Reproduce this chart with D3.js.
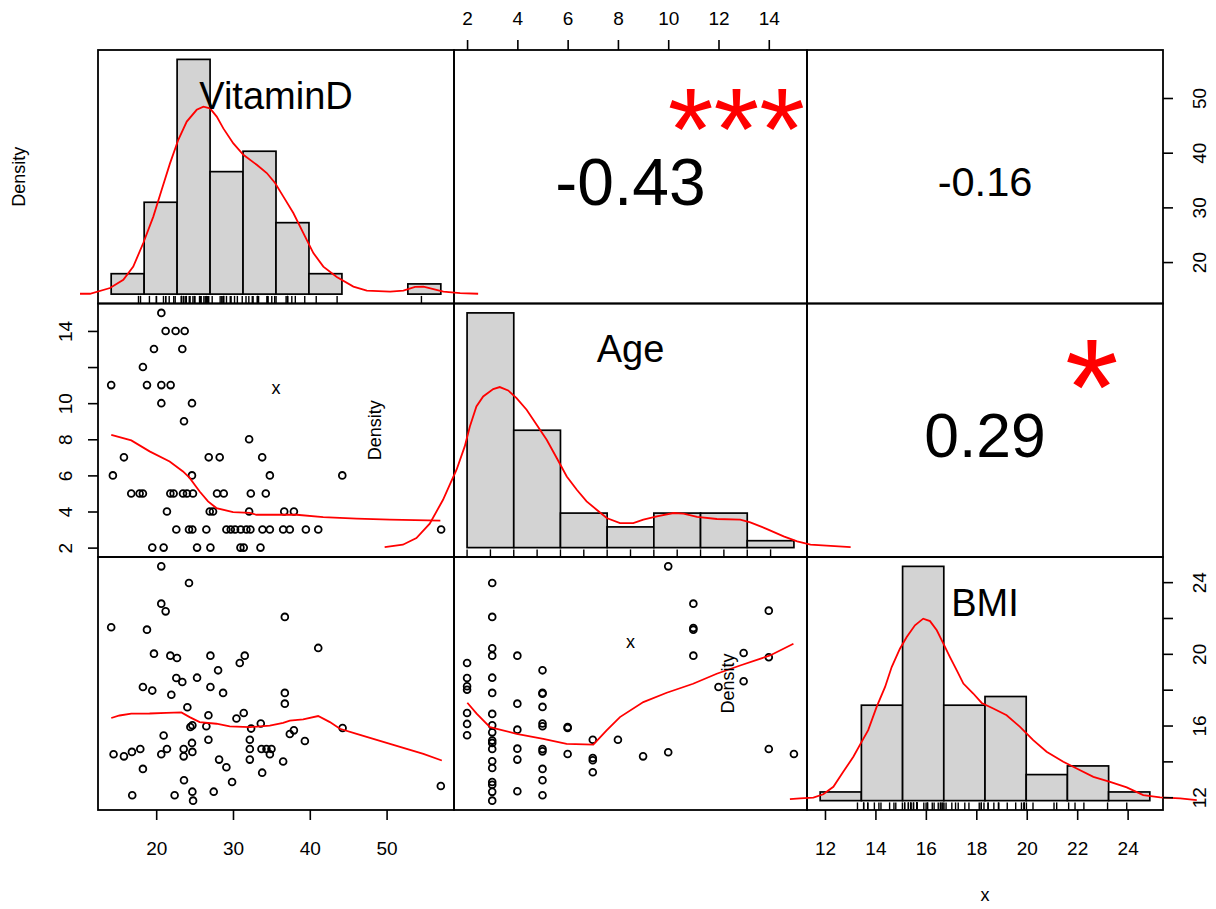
<!DOCTYPE html>
<html>
<head>
<meta charset="utf-8">
<script src="https://cdn.jsdelivr.net/npm/d3@7"></script>
<style>
	body{margin:0;background:#fff;}
	svg{font-family:"Liberation Sans", Arial, sans-serif;}
</style>
</head>
<body>
<div id="chart"></div>
<script>
//values
let varNames = ["VitaminD", "Age", "BMI"];

//scatter pairs [x, y]
let vitdAgePts = [[20.67,15],[21.23,14],[22.53,14],[23.71,14],[19.71,13],[23.40,13],[18.27,12],[14.14,11],[18.80,11],[20.67,11],[21.88,11],
	[20.67,10],[24.66,10],[23.62,9],[32.10,8],[15.80,7],[26.84,7],[28.27,7],[33.80,7],[14.36,6],[24.66,6],[34.80,6],[44.23,6],
	[16.75,5],[17.84,5],[18.27,5],[21.84,5],[22.27,5],[23.49,5],[24.01,5],[24.79,5],[27.92,5],[28.80,5],[32.32,5],[34.27,5],
	[21.40,4],[26.97,4],[27.40,4],[32.10,4],[36.67,4],[37.93,4],
	[22.62,3],[24.27,3],[24.71,3],[26.53,3],[29.14,3],[29.71,3],[30.27,3],[31.01,3],[31.75,3],[32.27,3],[33.84,3],[34.80,3],[36.53,3],[37.40,3],[39.49,3],[41.10,3],[57.10,3],
	[19.49,2],[20.97,2],[25.32,2],[27.06,2],[30.97,2],[31.40,2],[33.58,2]];

let vitdBmiPts = [[20.66,24.88],[24.27,23.95],[20.66,22.80],[21.23,22.37],[14.14,21.48],[18.80,21.35],[36.75,22.06],[41.10,20.33],[19.71,20.01],[21.84,19.90],
	[22.71,19.77],[27.06,19.90],[31.53,19.90],[30.88,19.49],[28.06,19.08],[22.62,18.65],[23.40,18.43],[25.32,18.67],[27.06,18.15],[18.27,18.15],
	[19.49,17.95],[21.97,17.72],[28.71,17.82],[36.75,17.82],[36.75,17.22],[24.06,17.02],[26.80,16.57],[31.40,16.70],[30.45,16.39],[24.71,16.01],
	[26.53,15.96],[33.62,16.11],[32.36,15.83],[44.27,15.86],[20.97,15.44],[37.93,15.73],[37.40,15.53],[26.80,15.21],[32.19,15.21],[24.66,15.03],
	[39.36,15.14],[17.93,14.69],[21.40,14.69],[23.58,14.69],[24.71,14.53],[32.19,14.69],[33.71,14.69],[34.36,14.69],[35.01,14.69],[14.45,14.40],
	[15.80,14.28],[16.84,14.53],[20.66,14.40],[23.58,14.28],[34.80,14.40],[28.19,14.10],[32.19,14.10],[36.53,13.99],[18.27,13.58],[29.14,13.67],
	[33.80,13.37],[29.88,12.85],[23.62,12.95],[16.88,12.11],[22.40,12.11],[24.71,12.31],[27.49,12.31],[24.80,11.81],[57.06,12.63],[24.45,15.92]];

let ageBmiPts = [[2,19.49],[2,18.65],[2,18.19],[2,18.00],[2,16.70],[2,16.09],[2,15.46],
	[3,23.95],[3,22.06],[3,20.31],[3,19.90],[3,18.67],[3,17.82],[3,16.65],[3,16.01],[3,15.62],[3,15.16],[3,15.03],[3,14.69],[3,14.01],[3,13.63],[3,12.85],[3,12.70],[3,12.30],[3,11.81],
	[4,19.90],[4,17.22],[4,15.77],[4,14.71],[4,14.10],[4,12.33],
	[5,19.08],[5,17.82],[5,17.78],[5,17.04],[5,16.11],[5,15.96],[5,14.69],[5,14.56],[5,13.58],[5,12.95],[5,12.11],
	[6,15.92],[6,15.86],[6,14.41],[7,15.21],[7,14.19],[7,14.06],[7,13.39],
	[8,15.21],[9,14.28],[10,24.88],[10,14.51],[11,22.80],[11,21.44],[11,21.35],[11,19.90],
	[12,18.15],[13,20.05],[13,18.47],[14,22.41],[14,19.81],[14,14.69],[15,14.41]];

//smoothed (red) lines in the scatter panels
let vitdAgeSmooth = [[14.15,8.25],[16.76,7.94],[19.14,7.33],[21.75,6.77],[23.49,6.22],[24.36,5.86],[25.01,5.48],[25.66,5.11],[26.75,4.56],
	[27.84,4.19],[30.01,3.97],[32.18,3.92],[33.06,3.82],[38.28,3.82],[41.75,3.69],[46.10,3.60],[50.44,3.55],[57.0,3.49]];
let vitdBmiSmooth = [[14.15,16.42],[15.23,16.56],[16.76,16.66],[19.14,16.67],[21.32,16.71],[23.28,16.73],[24.36,16.47],[25.66,16.19],
	[27.84,16.10],[29.58,15.95],[32.18,15.91],[34.79,16.00],[36.53,16.15],[37.40,16.27],[39.14,16.34],[41.09,16.53],[42.62,16.19],
	[43.92,15.82],[46.10,15.54],[50.44,14.98],[54.79,14.42],[57.19,14.05]];
let ageBmiSmooth = [[2.01,17.27],[2.38,16.66],[2.91,15.91],[3.97,15.54],[5.03,15.26],[5.96,14.98],[7.02,14.93],[7.55,15.73],[8.08,16.47],
	[9.01,17.31],[9.94,17.83],[10.99,18.33],[11.93,18.89],[12.86,19.35],[14.05,19.91],[14.98,20.56]];

//histograms
let vitdBreaks = [10,15,20,25,30,35,40,45,50,55,60];
let vitdCounts = [2,9,23,12,14,7,2,0,0,1];
let ageBreaks = [2,4,6,8,10,12,14,16];
let ageCounts = [34,17,5,3,5,5,1];
let bmiBreaks = [10,12,14,16,18,20,22,24,26];
let bmiCounts = [1,11,27,11,12,3,4,1];
let ageRug = [2,3,4,5,6,7,8,9,10,11,12,13,14,15];

//density curves [value, density]
let vitdDensity = [[5.27,0.0001],[6.78,0.0001],[9.82,0.0017],[11.84,0.0040],[13.35,0.0077],[14.87,0.0143],[16.39,0.0217],[17.66,0.0292],
	[18.92,0.0366],[20.18,0.0432],[21.46,0.0483],[22.97,0.0516],[23.98,0.0525],[24.99,0.0520],[26.01,0.0497],[27.01,0.0464],[28.53,0.0422],
	[30.05,0.0390],[32.08,0.0362],[33.60,0.0339],[34.86,0.0311],[36.12,0.0273],[37.63,0.0227],[39.15,0.0171],[40.67,0.0115],[42.18,0.0077],
	[44.22,0.0048],[46.74,0.0021],[48.77,0.0010],[52.31,0.0007],[54.32,0.0010],[56.10,0.0020],[57.36,0.0021],[58.88,0.0014],[60.39,0.0007],
	[62.93,0.0003],[65.66,0.0001]];
let ageDensity = [[-1.53,0.0006],[-0.75,0.0030],[-0.17,0.0099],[0.40,0.0247],[0.97,0.0495],[1.26,0.0651],[1.55,0.0806],[1.90,0.1047],
	[2.12,0.1254],[2.40,0.1461],[2.69,0.1564],[3.12,0.1640],[3.40,0.1661],[3.76,0.1626],[4.12,0.1547],[4.55,0.1426],[4.98,0.1271],
	[5.41,0.1116],[5.84,0.0927],[6.27,0.0736],[6.70,0.0599],[7.12,0.0478],[7.55,0.0392],[7.98,0.0306],[8.55,0.0254],[9.12,0.0254],
	[9.55,0.0289],[10.13,0.0323],[10.84,0.0358],[11.27,0.0351],[11.85,0.0317],[12.70,0.0296],[13.70,0.0289],[14.13,0.0261],[14.85,0.0192],
	[15.56,0.0116],[16.14,0.0064],[16.71,0.0030],[18.43,0.0004]];
let bmiDensity = [[8.53,0.0013],[9.02,0.0019],[9.67,0.0024],[10.15,0.0052],[10.64,0.0114],[11.12,0.0237],[11.61,0.0361],[12.01,0.0484],
	[12.33,0.0580],[12.74,0.0772],[13.15,0.0936],[13.47,0.1100],[13.87,0.1251],[14.20,0.1347],[14.60,0.1443],[15.00,0.1498],[15.33,0.1478],
	[15.66,0.1402],[15.98,0.1293],[16.30,0.1182],[16.63,0.1073],[16.95,0.0964],[17.43,0.0882],[17.84,0.0804],[18.40,0.0758],[19.05,0.0703],
	[19.70,0.0607],[20.34,0.0498],[20.99,0.0402],[21.80,0.0320],[22.45,0.0265],[23.26,0.0196],[24.07,0.0155],[24.88,0.0109],[25.68,0.0046],
	[26.50,0.0027],[27.47,0.0019],[28.28,0.0005]];

//correlations (upper panels) and their stars
let corValues = [-0.43, -0.16, 0.29];
let corStars = ["***", "", "*"];

//axis ticks
let vitdTicks = [20,30,40,50];
let ageTicks = [2,4,6,8,10,12,14];
let ageLeftLabels = [2,4,6,8,10,14];
let bmiTicks = [12,14,16,18,20,22,24];
let bmiRightLabels = [12,16,20,24];


function chartCorrelation(){

	//sizing
	let width = 1216, height = 909;
	let colEdges = [98, 454, 807, 1163];
	let rowEdges = [50, 303.5, 557, 810];

	let svg = d3.select("#chart")
		.append("svg")
		.attr("width", width)
		.attr("height", height);

	//R style range: 4% on each side
	let rExt = (a, b) => { let d = (b - a) * 0.04; return [a - d, b + d]; };

	let vitdVals = vitdBmiPts.map(d => d[0]);
	let bmiVals = vitdBmiPts.map(d => d[1]);
	let doms = [
		rExt(d3.min(vitdVals), d3.max(vitdVals)),
		rExt(d3.min(ageRug), d3.max(ageRug)),
		rExt(d3.min(bmiVals), d3.max(bmiVals))
	];

	let xScale = (j) => d3.scaleLinear().domain(doms[j]).range([colEdges[j], colEdges[j+1]]);
	let yScale = (i) => d3.scaleLinear().domain(doms[i]).range([rowEdges[i+1], rowEdges[i]]);

	//panel boxes
	for (let i = 0; i < 3; i++){
		for (let j = 0; j < 3; j++){
			svg.append("rect")
				.attr("x", colEdges[j])
				.attr("y", rowEdges[i])
				.attr("width", colEdges[j+1] - colEdges[j])
				.attr("height", rowEdges[i+1] - rowEdges[i])
				.attr("fill", "none")
				.attr("stroke", "#000")
				.attr("stroke-width", 1.8);
		}
	}

	//scatter panels (lower)
	let scatters = [
		{i:1, j:0, pts: vitdAgePts, smooth: vitdAgeSmooth},
		{i:2, j:0, pts: vitdBmiPts, smooth: vitdBmiSmooth},
		{i:2, j:1, pts: ageBmiPts, smooth: ageBmiSmooth}
	];

	scatters.forEach((p) => {
		let x = xScale(p.j), y = yScale(p.i);
		let g = svg.append("g").attr("class", "scatter");
		g.selectAll("circle")
			.data(p.pts)
			.enter()
			.append("circle")
			.attr("cx", d => x(d[0]))
			.attr("cy", d => y(d[1]))
			.attr("r", 3.4)
			.attr("fill", "none")
			.attr("stroke", "#000")
			.attr("stroke-width", 1.8);
		g.append("path")
			.datum(p.smooth)
			.attr("d", d3.line().x(d => x(d[0])).y(d => y(d[1])))
			.attr("fill", "none")
			.attr("stroke", "#ff0000")
			.attr("stroke-width", 1.8);
	});

	//histogram panels (diagonal)
	let hists = [
		{breaks: vitdBreaks, counts: vitdCounts, dens: vitdDensity, rug: vitdVals},
		{breaks: ageBreaks, counts: ageCounts, dens: ageDensity, rug: ageRug},
		{breaks: bmiBreaks, counts: bmiCounts, dens: bmiDensity, rug: bmiVals}
	];

	hists.forEach((h, k) => {
		let n = d3.sum(h.counts);
		let bins = h.counts.map((c, b) => ({
			x0: h.breaks[b], x1: h.breaks[b+1],
			d: c / (n * (h.breaks[b+1] - h.breaks[b]))
		}));
		let dMax = d3.max(bins, b => b.d);
		let hx = d3.scaleLinear().domain(rExt(h.breaks[0], h.breaks[h.breaks.length-1])).range([colEdges[k], colEdges[k+1]]);
		let hy = d3.scaleLinear().domain(rExt(0, dMax)).range([rowEdges[k+1], rowEdges[k]]);
		let g = svg.append("g").attr("class", "hist");

		g.selectAll("rect")
			.data(bins)
			.enter()
			.append("rect")
			.attr("x", b => hx(b.x0))
			.attr("y", b => hy(b.d))
			.attr("width", b => hx(b.x1) - hx(b.x0))
			.attr("height", b => hy(0) - hy(b.d))
			.attr("fill", "#d3d3d3")
			.attr("stroke", "#000")
			.attr("stroke-width", 1.7);

		//rug
		let pH = rowEdges[k+1] - rowEdges[k];
		g.selectAll(".rug")
			.data(h.rug)
			.enter()
			.append("line")
			.attr("class", "rug")
			.attr("x1", d => hx(d)).attr("x2", d => hx(d))
			.attr("y1", rowEdges[k+1]).attr("y2", rowEdges[k+1] - 0.03 * pH)
			.attr("stroke", "#000")
			.attr("stroke-width", 1.4);

		//density curve, not clipped
		g.append("path")
			.datum(h.dens)
			.attr("d", d3.line().x(d => hx(d[0])).y(d => hy(d[1])))
			.attr("fill", "none")
			.attr("stroke", "#ff0000")
			.attr("stroke-width", 1.8);

		let cx = (colEdges[k] + colEdges[k+1]) / 2;
		let cy = (rowEdges[k] + rowEdges[k+1]) / 2;

		//titles left over by hist()
		g.append("text")
			.attr("transform", `translate(${colEdges[k] - 79},${cy}) rotate(-90)`)
			.attr("text-anchor", "middle")
			.attr("dy", "0.35em")
			.attr("font-size", 18)
			.text("Density");
		g.append("text")
			.attr("x", cx)
			.attr("y", rowEdges[k+1] + 86 + 0.26 * 18)
			.attr("text-anchor", "middle")
			.attr("font-size", 18)
			.text("x");

		//variable name
		g.append("text")
			.attr("x", cx)
			.attr("y", rowEdges[k] + 45 + 0.358 * 38)
			.attr("text-anchor", "middle")
			.attr("font-size", 38)
			.text(varNames[k]);
	});

	//correlation panels (upper)
	let cors = [{i:0, j:1}, {i:0, j:2}, {i:1, j:2}];
	let probe = svg.append("text").attr("font-size", 100).attr("visibility", "hidden");

	cors.forEach((c, k) => {
		let txt = d3.format(".2f")(corValues[k]).replace("\u2212", "-");
		probe.text(txt);
		let base = 267.8 * 100 / probe.node().getComputedTextLength();
		let fs = base * (Math.abs(corValues[k]) + 0.3) / 1.3;
		let x0 = colEdges[c.j], x1 = colEdges[c.j+1];
		let y0 = rowEdges[c.i], y1 = rowEdges[c.i+1];

		svg.append("text")
			.attr("x", (x0 + x1) / 2)
			.attr("y", (y0 + y1) / 2 + 4.3 + 0.358 * fs)
			.attr("text-anchor", "middle")
			.attr("font-size", fs)
			.text(txt);

		if (corStars[k]){
			svg.append("text")
				.attr("x", x0 + 0.8 * (x1 - x0))
				.attr("y", y1 - 0.8 * (y1 - y0) + 2.5 + 0.57 * base)
				.attr("text-anchor", "middle")
				.attr("font-size", base)
				.attr("fill", "#ff0000")
				.text(corStars[k]);
		}
	});
	probe.remove();

	//axes
	let styleAxis = (g) => {
		g.select(".domain").remove();
		g.selectAll(".tick line").attr("stroke", "#000").attr("stroke-width", 1.6);
		g.selectAll(".tick text").attr("font-size", 19).attr("fill", "#000")
			.attr("font-family", "\"Liberation Sans\", Arial, sans-serif");
	};

	//top: Age
	svg.append("g")
		.attr("transform", `translate(0,${rowEdges[0]})`)
		.call(d3.axisTop(xScale(1)).tickValues(ageTicks).tickSize(10).tickFormat(d3.format("d")))
		.call(styleAxis)
		.call(g => g.selectAll(".tick text").attr("y", -32).attr("dy", "0.35em"));

	//bottom: VitaminD and BMI
	[[0, vitdTicks], [2, bmiTicks]].forEach(([j, ticks]) => {
		svg.append("g")
			.attr("transform", `translate(0,${rowEdges[3]})`)
			.call(d3.axisBottom(xScale(j)).tickValues(ticks).tickSize(10).tickFormat(d3.format("d")))
			.call(styleAxis)
			.call(g => g.selectAll(".tick text").attr("y", 38).attr("dy", "0.35em"));
	});

	//left: Age
	svg.append("g")
		.attr("transform", `translate(${colEdges[0]},0)`)
		.call(d3.axisLeft(yScale(1)).tickValues(ageTicks).tickSize(10)
			.tickFormat(d => ageLeftLabels.includes(d) ? d : ""))
		.call(styleAxis)
		.call(g => g.selectAll(".tick text")
			.attr("x", null).attr("y", null)
			.attr("transform", "translate(-33,0) rotate(-90)")
			.attr("text-anchor", "middle")
			.attr("dy", "0.35em"));

	//right: VitaminD and BMI
	[[0, vitdTicks, vitdTicks], [2, bmiTicks, bmiRightLabels]].forEach(([i, ticks, labels]) => {
		svg.append("g")
			.attr("transform", `translate(${colEdges[3]},0)`)
			.call(d3.axisRight(yScale(i)).tickValues(ticks).tickSize(10)
				.tickFormat(d => labels.includes(d) ? d : ""))
			.call(styleAxis)
			.call(g => g.selectAll(".tick text")
				.attr("x", null).attr("y", null)
				.attr("transform", "translate(36,0) rotate(-90)")
				.attr("text-anchor", "middle")
				.attr("dy", "0.35em"));
	});

} //function chartCorrelation


chartCorrelation();
</script>
</body>
</html>
